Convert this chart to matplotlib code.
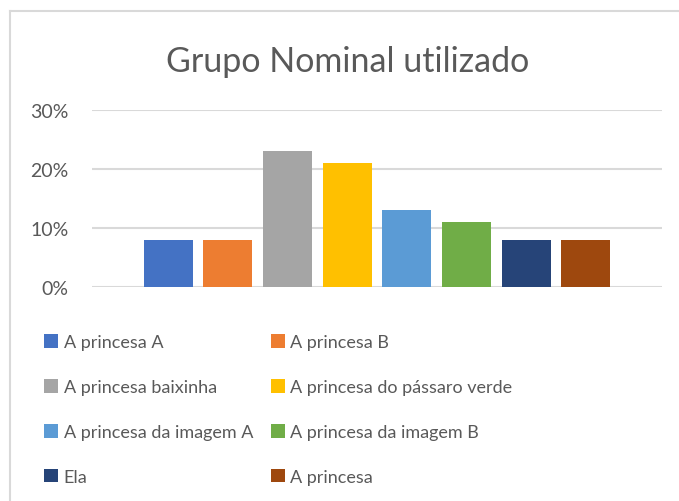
import matplotlib
matplotlib.use("Agg")
import matplotlib.pyplot as plt
from matplotlib.patches import Patch
from matplotlib.lines import Line2D

plt.rcParams['font.family'] = ['Lato', 'DejaVu Sans']

# dados do gráfico
series = ["A princesa A", "A princesa B", "A princesa baixinha",
          "A princesa do pássaro verde", "A princesa da imagem A",
          "A princesa da imagem B", "Ela", "A princesa"]
values = [0.08, 0.08, 0.23, 0.21, 0.13, 0.11, 0.08, 0.08]
colors = ["#4472C4", "#ED7D31", "#A5A5A5", "#FFC000",
          "#5B9BD5", "#70AD47", "#264478", "#9E480E"]
yticks = [0, 0.10, 0.20, 0.30]
ytick_labels = ["0%", "10%", "20%", "30%"]

W, H = 679, 502
fig = plt.figure(figsize=(W / 100, H / 100), dpi=100)
text_color = "#595959"

# borda do gráfico (só topo e esquerda visíveis)
fig.add_artist(Line2D([10 / W, 10 / W], [0, 1 - 12 / H], color="#D9D9D9", lw=1.5))
fig.add_artist(Line2D([10 / W, 1], [1 - 12 / H, 1 - 12 / H], color="#D9D9D9", lw=1.5))

ax = fig.add_axes([92 / W, 1 - 288 / H, (662 - 92) / W, (288 - 111) / H])
x = list(range(len(values)))
ax.bar(x, values, width=0.82, color=colors, zorder=3)
ax.set_xlim(-1.28, 8.28)
ax.set_ylim(0, 0.30)
ax.set_yticks(yticks)
ax.set_yticklabels(ytick_labels, fontsize=14, color=text_color)
ax.set_xticks([])
ax.tick_params(axis="y", length=0, pad=17)
ax.grid(axis="y", color="#D9D9D9", lw=1.5, zorder=0)
for s in ax.spines.values():
    s.set_visible(False)

fig.text(348 / W, 1 - 72 / H, "Grupo Nominal utilizado", fontsize=24.5,
         color=text_color, ha="center", va="baseline")

# legenda preenchida por linhas (como no Excel)
handles = [Patch(facecolor=c, edgecolor="none") for c in colors]
order = [0, 2, 4, 6, 1, 3, 5, 7]
leg = fig.legend([handles[i] for i in order], [series[i] for i in order],
                 loc="upper left", ncol=2,
                 bbox_to_anchor=(44 / W, 1 - 335 / H), frameon=False,
                 borderpad=0, borderaxespad=0,
                 fontsize=13, labelcolor=text_color,
                 handlelength=0.78, handleheight=0.78, handletextpad=0.3,
                 columnspacing=1.0, labelspacing=1.6)

fig.savefig("out.png", dpi=100, facecolor="white")
